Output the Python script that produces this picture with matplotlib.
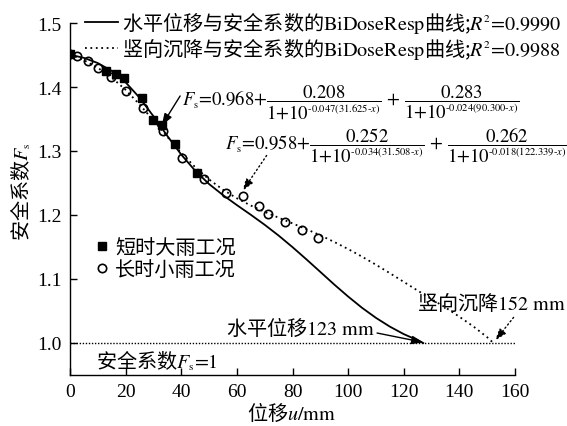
import matplotlib
matplotlib.use("Agg")
import matplotlib.pyplot as plt
import matplotlib._mathtext as mathtext_internals
from matplotlib.font_manager import FontProperties

# ── Data ──────────────────────────────────────────────────────────────────────
square_x = [0, 13, 16.5, 19.5, 26, 30, 33, 37.7, 45.5]
square_fs = [1.452, 1.425, 1.420, 1.414, 1.383, 1.349, 1.340, 1.311, 1.266]

circle_x = [0, 2.6, 6.3, 10, 14.6, 20, 26.4, 33.5, 40.4, 48.3, 56, 62.1, 68.1,
            71.3, 77.3, 83.3, 89.3]
circle_fs = [1.452, 1.448, 1.440, 1.430, 1.415, 1.393, 1.367, 1.331, 1.289,
             1.256, 1.234, 1.230, 1.214, 1.202, 1.189, 1.176, 1.164]

horiz_x = [0, 5, 10, 15, 20, 25, 30, 35, 40, 45, 50, 55, 60, 65, 70, 75, 80,
           85, 90, 95, 100, 105, 110, 115, 120, 125, 127]
horiz_fs = [1.4505, 1.4455, 1.4374, 1.4252, 1.4073, 1.3833, 1.3543, 1.3235,
            1.2944, 1.2692, 1.2484, 1.2311, 1.2155, 1.2004, 1.1847, 1.1679,
            1.1498, 1.1307, 1.1111, 1.0914, 1.0726, 1.0550, 1.0393, 1.0256,
            1.0139, 1.0043, 1.0000]

vert_x = [0, 5, 10, 15, 20, 25, 30, 35, 40, 45, 50, 55, 60, 65, 70, 75, 80,
          85, 90, 95, 100, 105, 110, 115, 120, 125, 130, 135, 140, 145, 150, 152]
vert_fs = [1.4507, 1.4419, 1.4300, 1.4147, 1.3955, 1.3728, 1.3478, 1.3221,
           1.2972, 1.2748, 1.2556, 1.2395, 1.2261, 1.2148, 1.2049, 1.1958,
           1.1869, 1.1778, 1.1683, 1.1579, 1.1468, 1.1349, 1.1223, 1.1091,
           1.0955, 1.0819, 1.0685, 1.0555, 1.0410, 1.0260, 1.0090, 1.0010]

x_ticks = [0, 20, 40, 60, 80, 100, 120, 140, 160]
y_ticks = [1.0, 1.1, 1.2, 1.3, 1.4, 1.5]

# ── Style ────────────────────────────────────────────────────────────────────
CJK = "Noto Sans CJK SC"
DOT = (0, (1, 2))
plt.rcParams.update({
    "font.family": ["Liberation Serif", CJK],
    "mathtext.fontset": "stix",
    "font.size": 14,
    "axes.linewidth": 1.0,
})
# the source uses much smaller super/subscripts than mathtext's default 0.7
mathtext_internals.SHRINK_FACTOR = 0.56
cjk = FontProperties(family=CJK, size=14.5)

fig = plt.figure(figsize=(5.67, 4.27), dpi=100)
ax = fig.add_axes([70 / 567, 51 / 427, 445 / 567, 352 / 427])

# safety line Fs = 1
ax.plot([0, 160], [1.0, 1.0], color="k", lw=1.0, ls=(0, (1, 1.2)))

ax.plot(square_x, square_fs, ls="none", marker="s", ms=5.2, mfc="k", mec="k",
        label="短时大雨工况", zorder=3)
ax.plot(circle_x, circle_fs, ls="none", marker="o", ms=6, mfc="none", mec="k",
        mew=1.2, label="长时小雨工况", zorder=3)
l1, = ax.plot(horiz_x, horiz_fs, color="k", lw=1.3, zorder=4,
              label=r"水平位移与安全系数的$\text{BiDoseResp}$曲线;$R^2\text{=0.9990}$")
l2, = ax.plot(vert_x, vert_fs, color="k", lw=1.3, ls=DOT, zorder=4,
              label=r"竖向沉降与安全系数的$\text{BiDoseResp}$曲线;$R^2\text{=0.9988}$")

ax.set_xlim(0, 160)
ax.set_ylim(0.95, 1.5)
ax.set_xticks(x_ticks)
ax.set_yticks(y_ticks)
ax.set_yticklabels([f"{v:.1f}" for v in y_ticks])
ax.spines["top"].set_visible(False)
ax.spines["right"].set_visible(False)
ax.tick_params(direction="in", length=5, width=1, labelsize=14, pad=6)

ax.set_xlabel(r"位移$u\text{/mm}$", fontproperties=cjk)
ax.set_ylabel(r"安全系数$F_\text{s}$", fontproperties=cjk)
ax.xaxis.set_label_coords(0.499, -0.105)
ax.xaxis.label.set_va("center")
ax.yaxis.set_label_coords(-0.110, 0.523)
ax.yaxis.label.set_va("center")

# legends
leg1 = ax.legend(handles=[l1, l2], loc="upper left",
                 bbox_to_anchor=(85 / 567, 1 - 10 / 427), bbox_transform=fig.transFigure,
                 frameon=False, prop=cjk, handlelength=1.65, handletextpad=0.2,
                 borderpad=0, borderaxespad=0, labelspacing=0.05)
ax.add_artist(leg1)
h = ax.get_lines()[1:3]
ax.legend(handles=h, loc="upper left",
          bbox_to_anchor=(95 / 567, 1 - 238 / 427), bbox_transform=fig.transFigure,
          frameon=False, prop=cjk, handlelength=0.7, handletextpad=0.3,
          borderpad=0, borderaxespad=0, labelspacing=0.05, numpoints=1)

# fitted formulas
f1 = (r"$F_\text{s}\text{=0.968+}\dfrac{0.208}{1\text{+}10^{\text{-0.047(31.625-}x\text{)}}}"
      r"\text{ + }\dfrac{0.283}{1\text{+}10^{\text{-0.024(90.300-}x\text{)}}}$")
f2 = (r"$F_\text{s}\text{=0.958+}\dfrac{0.252}{1\text{+}10^{\text{-0.034(31.508-}x\text{)}}}"
      r"\text{ + }\dfrac{0.262}{1\text{+}10^{\text{-0.018(122.339-}x\text{)}}}$")
ax.text(40.3, 1.378, f1, ha="left", va="center", fontsize=13.5)
ax.text(55.7, 1.311, f2, ha="left", va="center", fontsize=13.5, clip_on=False)

head = "-|>,head_length=0.5,head_width=0.18"
ax.annotate("", xy=(33, 1.340), xytext=(39.6, 1.386),
            arrowprops=dict(arrowstyle=head, color="k", lw=1.0, shrinkA=0, shrinkB=0))
ax.annotate("", xy=(62.1, 1.238), xytext=(70.7, 1.293),
            arrowprops=dict(arrowstyle=head, color="k", lw=1.0, ls=DOT, shrinkA=0, shrinkB=0))

ax.text(109.7, 1.025, r"水平位移$\text{123 mm}$", ha="right", va="center", fontproperties=cjk)
ax.annotate("", xy=(127.1, 1.001), xytext=(110.4, 1.0156),
            arrowprops=dict(arrowstyle=head, color="k", lw=1.0, shrinkA=0, shrinkB=0))

ax.text(124.6, 1.064, r"竖向沉降$\text{152 mm}$", ha="left", va="center",
        fontproperties=cjk, clip_on=False)
ax.annotate("", xy=(152.9, 1.004), xytext=(159.5, 1.040), annotation_clip=False,
            arrowprops=dict(arrowstyle=head, color="k", lw=1.0, ls=DOT, shrinkA=0, shrinkB=0))

ax.text(9.3, 0.972, r"安全系数$F_\text{s}\text{=1}$", ha="left", va="center", fontproperties=cjk)

fig.savefig("out.png", dpi=100)
